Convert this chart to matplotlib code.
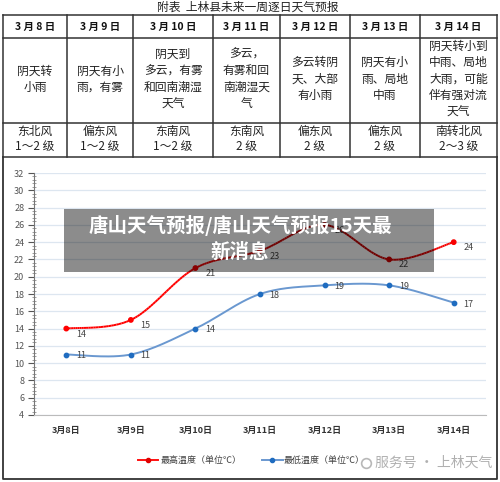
import numpy as np
import matplotlib.pyplot as plt
from matplotlib.collections import LineCollection
from matplotlib.patches import Rectangle

plt.rcParams['font.family'] = ['Noto Sans CJK SC', 'DejaVu Sans']

# table data
title = '附表  上林县未来一周逐日天气预报'
headers = ['3 月 8 日', '3 月 9 日', '3 月 10 日', '3 月 11 日', '3 月 12 日', '3 月 13 日', '3 月 14 日']
weather = ['阴天转\n小雨', '阴天有小\n雨，有雾', '阴天到\n多云，有雾\n和回南潮湿\n天气',
           '多云，\n有雾和回\n南潮湿天\n气', '多云转阴\n天、大部\n有小雨', '阴天有小\n雨、局地\n中雨',
           '阴天转小到\n中雨、局地\n大雨，可能\n伴有强对流\n天气']
wind = ['东北风\n1～2 级', '偏东风\n1～2 级', '东南风\n1～2 级', '东南风\n2 级',
        '偏东风\n2 级', '偏东风\n2 级', '南转北风\n2～3 级']

# chart data
dates = ['3月8日', '3月9日', '3月10日', '3月11日', '3月12日', '3月13日', '3月14日']
high = [14, 15, 21, 23, 26, 22, 24]
low = [11, 11, 14, 18, 19, 19, 17]
high_name = '最高温度（单位℃）'
low_name = '最低温度（单位℃）'

W, H = 500, 482


def smooth(xs, ys, n=30):
    # Excel-like smoothed line (Catmull-Rom bezier)
    p = np.column_stack([xs, ys]).astype(float)
    p = np.vstack([p[0], p, p[-1]])
    out = []
    for i in range(1, len(p) - 2):
        p0, p1, p2, p3 = p[i - 1], p[i], p[i + 1], p[i + 2]
        c1 = p1 + (p2 - p0) / 6
        c2 = p2 - (p3 - p1) / 6
        t = np.linspace(0, 1, n)[:, None]
        seg = (1 - t) ** 3 * p1 + 3 * (1 - t) ** 2 * t * c1 + 3 * (1 - t) * t ** 2 * c2 + t ** 3 * p2
        out.append(seg if i == 1 else seg[1:])
    return np.vstack(out)


fig = plt.figure(figsize=(W / 100, H / 100), dpi=100)

# background layer: table and frame
bg = fig.add_axes([0, 0, 1, 1], zorder=0)
bg.set_xlim(0, W)
bg.set_ylim(H, 0)
bg.axis('off')

bg.text(248, 7, title, ha='center', va='center', fontsize=8.5, color='#222222')

col_x = [3, 67, 133, 213, 280, 350, 420, 497]
row_y = [15, 38, 123, 157]
lc = '#333333'
for x in col_x:
    bg.plot([x, x], [row_y[0], row_y[-1]], color=lc, lw=1.1)
for y in row_y:
    bg.plot([col_x[0], col_x[-1]], [y, y], color=lc, lw=1.1)
# outer frame of chart box
bg.plot([3, 3, 497, 497], [157, 479, 479, 157], color=lc, lw=1.3)

for i in range(7):
    cx = (col_x[i] + col_x[i + 1]) / 2
    bg.text(cx, 26.5, headers[i], ha='center', va='center', fontsize=7.5,
            fontweight='bold', color='#111111')
    bg.text(cx, 79, weather[i], ha='center', va='center', fontsize=8.5,
            color='#222222', linespacing=1.35)
    bg.text(cx, 139, wind[i], ha='center', va='center', fontsize=8.5,
            color='#222222', linespacing=1.3)

# chart
ax = fig.add_axes([34 / W, (H - 415) / H, (486 - 34) / W, (415 - 173) / H], zorder=1)
ax.patch.set_alpha(0)
x = np.arange(len(dates))
ax.set_xlim(-0.5, len(dates) - 0.5)
ax.set_ylim(4, 32)
ax.set_yticks(np.arange(4, 33, 2))
ax.set_yticks(np.arange(4, 32.01, 0.4), minor=True)
ax.set_xticks(x)
ax.set_xticklabels(dates, fontsize=6.5, fontweight='bold', color='#333333')
ax.tick_params(axis='y', which='major', direction='out', length=4, labelsize=6.5,
               colors='#555555', pad=3)
ax.tick_params(axis='y', which='minor', direction='inout', length=3, color='#777777', width=0.5)
ax.tick_params(axis='x', length=0, pad=8)
ax.grid(axis='y', color='#dde6f0', lw=0.9)
ax.set_axisbelow(True)
for s in ['top', 'right']:
    ax.spines[s].set_visible(False)
ax.spines['left'].set_color('#777777')
ax.spines['bottom'].set_color('#bbbbbb')

# high series with a red gradient like the source
hs = smooth(x, high)
pts = hs.reshape(-1, 1, 2)
segs = np.concatenate([pts[:-1], pts[1:]], axis=1)
mid = (hs[:-1, 0] + hs[1:, 0]) / 2
dark = np.clip(1 - np.abs(mid - 4) / 2.2, 0, 1)
cols = [(1 - 0.3 * d, 0.0, 0.0) for d in dark]
ax.add_collection(LineCollection(segs, colors=cols, lw=1.4, zorder=3))
ax.scatter(x, high, s=10, color=[(1 - 0.3 * max(0, 1 - abs(i - 4) / 2.2), 0, 0) for i in x], zorder=4)

ls = smooth(x, low)
ax.plot(ls[:, 0], ls[:, 1], color='#6a98d0', lw=1.4, zorder=3)
ax.scatter(x, low, s=10, color='#1f6cc0', zorder=4)

for xi, v in zip(x, high):
    ax.annotate(str(v), (xi, v), xytext=(7, -4), textcoords='offset points',
                fontsize=6.5, color='#444444', va='center')
for xi, v in zip(x, low):
    ax.annotate(str(v), (xi, v), xytext=(7, -1), textcoords='offset points',
                fontsize=6.5, color='#444444', va='center')

# overlay layer: legend, banner, watermark
top = fig.add_axes([0, 0, 1, 1], zorder=3)
top.set_xlim(0, W)
top.set_ylim(H, 0)
top.axis('off')

top.plot([138, 158], [460, 460], color='#ff1010', lw=1.4)
top.plot([148], [460], 'o', color='#e00000', ms=3)
top.text(161, 460, high_name, fontsize=6.5, va='center', color='#404040')
top.plot([262, 283], [460, 460], color='#6a98d0', lw=1.4)
top.plot([272], [460], 'o', color='#1f6cc0', ms=3)
top.text(284, 460, low_name, fontsize=6.5, va='center', color='#404040')

top.add_patch(Rectangle((64, 209), 370, 63, facecolor='black', alpha=0.45, lw=0))
top.text(240, 226, '唐山天气预报/唐山天气预报15天最', ha='center', va='center',
         fontsize=14, fontweight='bold', color='white')
top.text(240, 252, '新消息', ha='center', va='center',
         fontsize=14, fontweight='bold', color='white')

top.plot([366], [463], 'o', ms=7, mfc='none', mec='#b8b8b8', mew=1.2)
top.text(375, 463, '服务号 · 上林天气', fontsize=10, va='center', color='#b0b0b0')

fig.savefig('out.png', dpi=100)
